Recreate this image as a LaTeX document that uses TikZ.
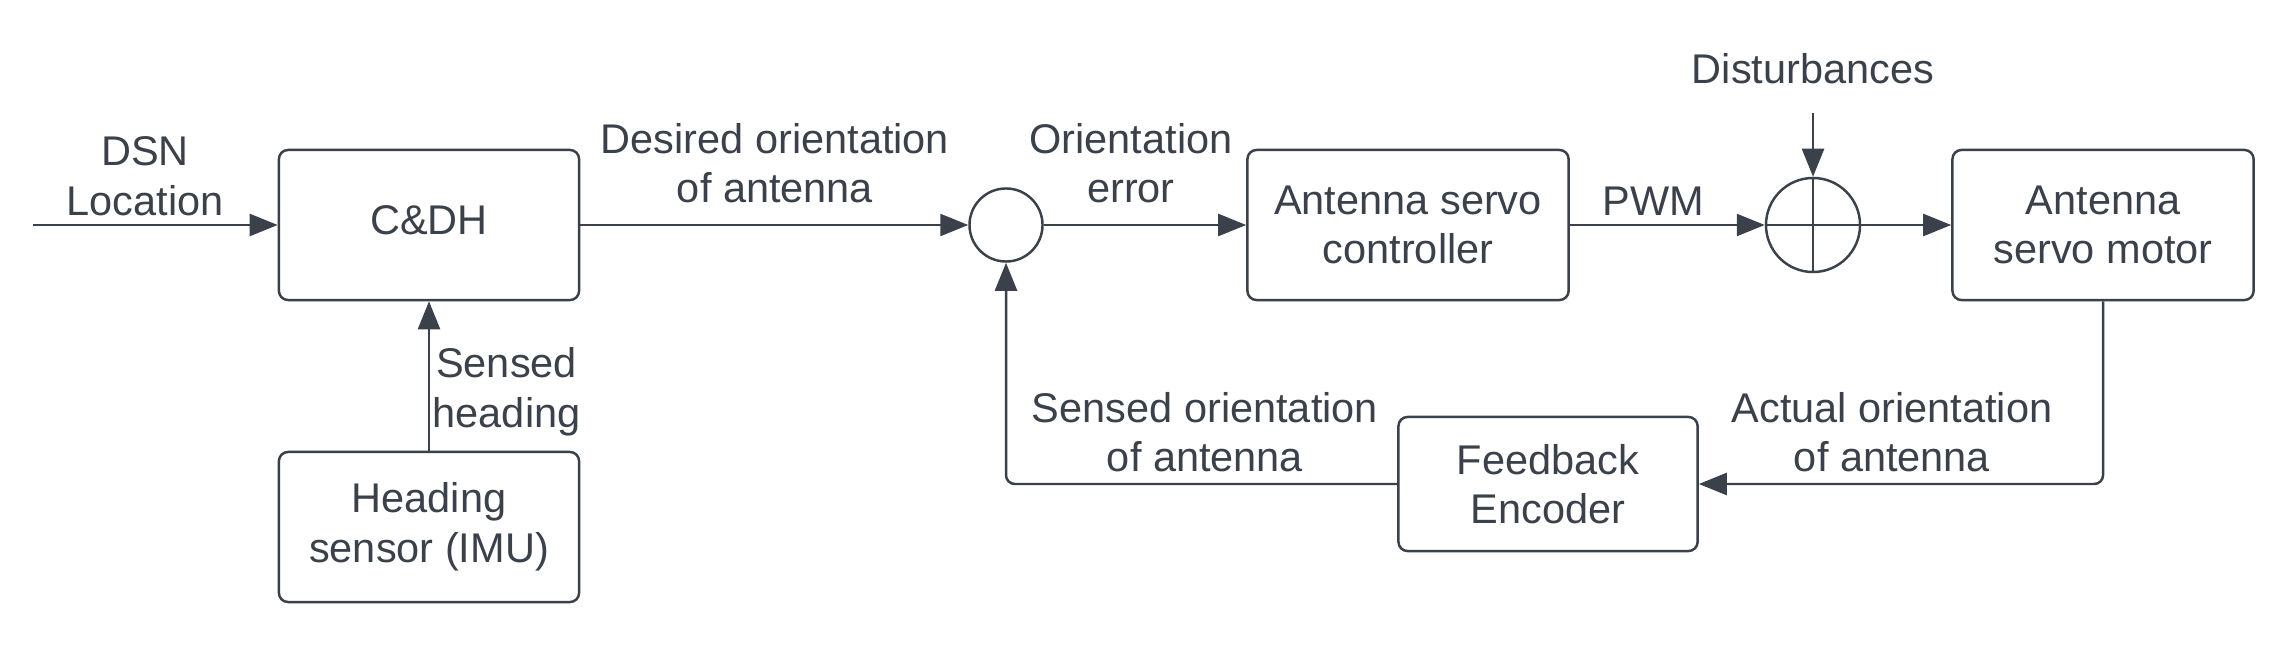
\documentclass[tikz,border=0pt]{standalone}
\usepackage{fontspec}
\setmainfont{Liberation Sans}
\usetikzlibrary{arrows.meta}
\definecolor{ink}{HTML}{3A414A}
\begin{document}
\begin{tikzpicture}[x=0.01cm,y=-0.01cm,
  every node/.style={text=ink,font=\fontsize{11.8}{14.1}\selectfont},
  blk/.style={draw=ink,line width=0.7pt,rounded corners=2.6pt,inner sep=0pt,minimum width=3cm,minimum height=1.5cm,align=center},
  lbl/.style={align=center,inner sep=0pt},
  sumc/.style={draw=ink,line width=0.7pt,circle,inner sep=0pt},
  arr/.style={draw=ink,line width=0.7pt,-{Triangle[length=0.28cm,width=0.22cm]}},
  ln/.style={draw=ink,line width=0.7pt}]
\useasboundingbox (0,0) rectangle (2280,658);
% blocks
\node[blk,text depth=3.1pt] (cdh) at (429,225) {C\&DH};
\node[blk] (imu) at (429,527) {Heading\\sensor (IMU)};
\node[blk,minimum width=3.21cm] (ctrl) at (1408,225) {Antenna servo\\controller};
\node[blk,minimum width=3.01cm] (motor) at (2103,225) {Antenna\\servo motor};
\node[blk,minimum width=2.99cm,minimum height=1.34cm] (fb) at (1548,484) {Feedback\\Encoder};
% summing junctions
\node[sumc,minimum size=0.73cm] (s1) at (1006,225) {};
\node[sumc,minimum size=0.94cm] (s2) at (1813,225) {};
\draw[ln] (s2.north) -- (s2.south);
\draw[ln] (s2.west) -- (s2.east);
% free ends
\coordinate (inp) at (33,225);
\coordinate (dist) at (1813,113);
% labels
\node[lbl] (ldsn) at (145,176) {DSN\\Location};
\node[lbl] (ldes) at (775,163) {Desired orientation\\of antenna};
\node[lbl] (lerr) at (1131,163) {Orientation\\error};
\node[lbl] (lpwm) at (1653,201) {PWM};
\node[lbl] (ldist) at (1813,69) {Disturbances};
\node[lbl] (lact) at (1892,432) {Actual orientation\\of antenna};
\node[lbl] (lsen) at (1205,432) {Sensed orientation\\of antenna};
\node[lbl,anchor=west] (lhead) at (432,392) {Sensed\\heading};
% connectors
\draw[arr] (inp) -- (cdh.west);
\draw[arr] (cdh.east) -- (s1.west);
\draw[arr] (s1.east) -- (ctrl.west);
\draw[arr] (ctrl.east) -- (s2.west);
\draw[arr] (dist) -- (s2.north);
\draw[arr] (s2.east) -- (motor.west);
\draw[arr,rounded corners=2.5pt] (motor.south) |- (fb.east);
\draw[arr,rounded corners=2.5pt] (fb.west) -| (s1.south);
\draw[arr] (imu.north) -- (cdh.south);
\end{tikzpicture}
\end{document}
